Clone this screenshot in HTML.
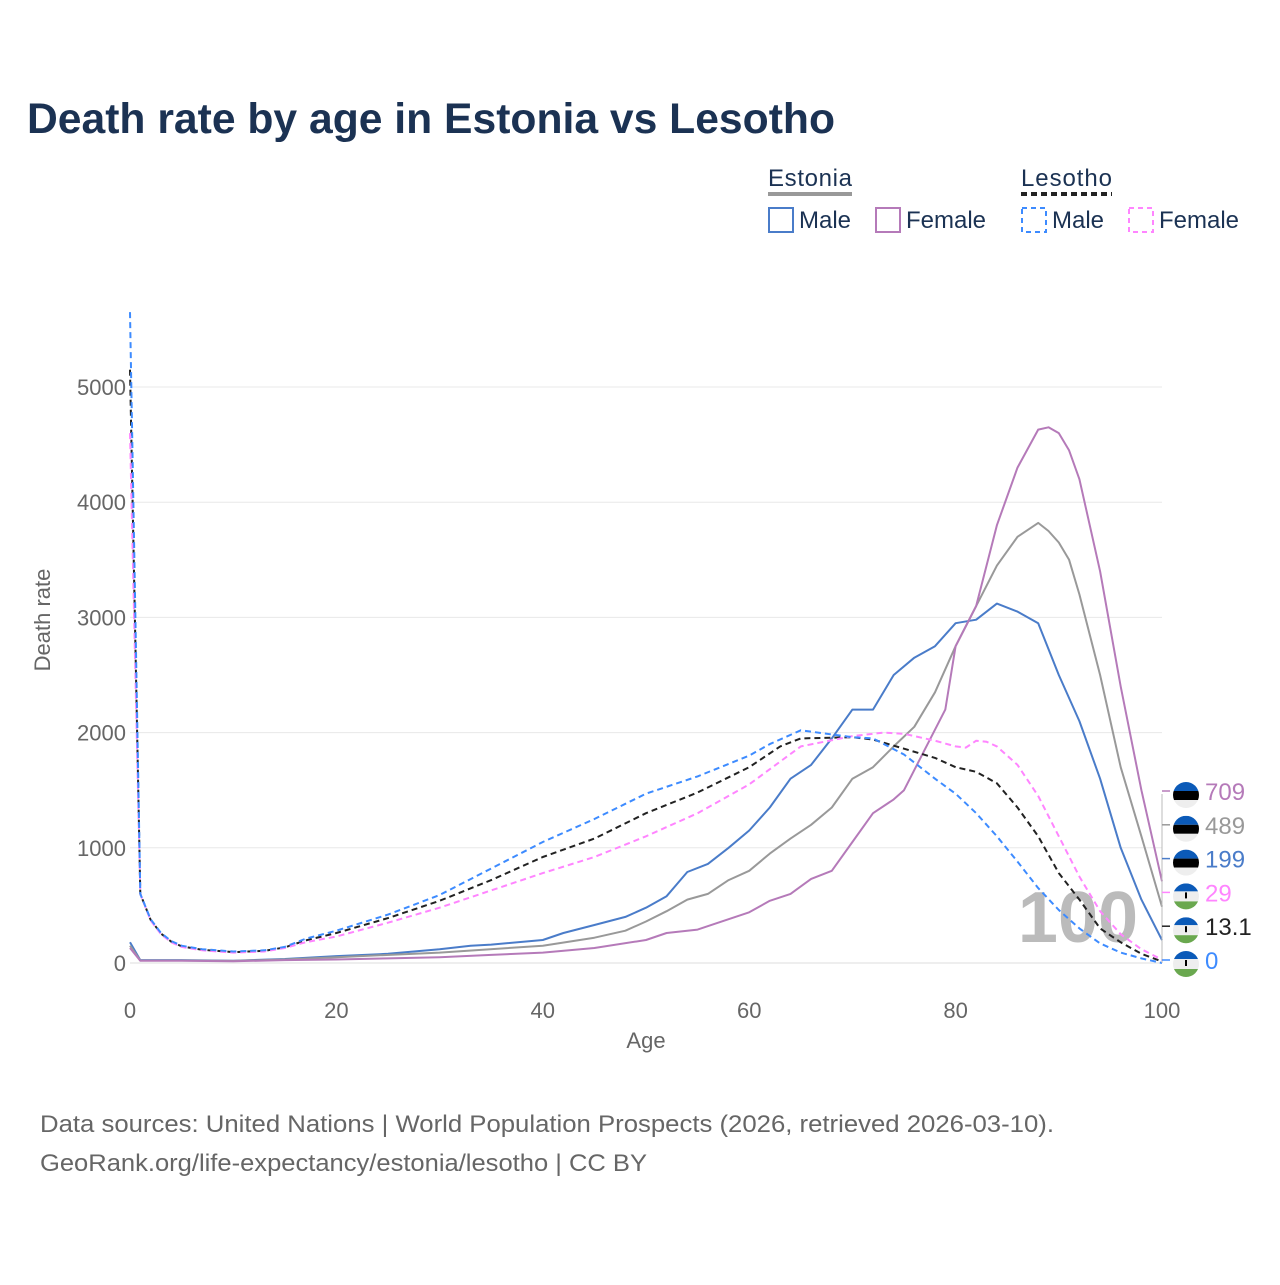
<!DOCTYPE html>
<html><head><meta charset="utf-8"><style>
body{margin:0;background:#fff;font-family:"Liberation Sans",sans-serif;}
svg text{font-family:"Liberation Sans",sans-serif;}
</style></head><body>
<svg id="c" width="1280" height="1280" xmlns="http://www.w3.org/2000/svg">
<text x="27" y="133" font-size="43" font-weight="bold" fill="#1b3253" textLength="808" lengthAdjust="spacingAndGlyphs">Death rate by age in Estonia vs Lesotho</text>
<g>
<text x="768" y="186" font-size="24" fill="#1b3253" textLength="84">Estonia</text>
<line x1="768" x2="852" y1="194" y2="194" stroke="#999" stroke-width="4"/>
<text x="1021" y="186" font-size="24" fill="#1b3253" textLength="91">Lesotho</text>
<line x1="1021" x2="1112" y1="194" y2="194" stroke="#222" stroke-width="4" stroke-dasharray="6,4"/>
<rect x="769" y="208" width="24" height="24" fill="none" stroke="#4a7cc9" stroke-width="2"/>
<text x="799" y="228" font-size="24" fill="#1b3253">Male</text>
<rect x="876" y="208" width="24" height="24" fill="none" stroke="#b57ab9" stroke-width="2"/>
<text x="906" y="228" font-size="24" fill="#1b3253">Female</text>
<rect x="1022" y="208" width="24" height="24" fill="none" stroke="#3d8bff" stroke-width="2" stroke-dasharray="5,4"/>
<text x="1052" y="228" font-size="24" fill="#1b3253">Male</text>
<rect x="1129" y="208" width="24" height="24" fill="none" stroke="#ff85ff" stroke-width="2" stroke-dasharray="5,4"/>
<text x="1159" y="228" font-size="24" fill="#1b3253">Female</text>
</g>
<g id="grid"></g>
<text x="1078" y="942" font-size="72" font-weight="bold" fill="#bbb" text-anchor="middle">100</text>
<g id="series"></g>
<g id="labels"></g>
<text x="646" y="1048" font-size="22" fill="#666" text-anchor="middle">Age</text>
<text transform="translate(50,620) rotate(-90)" font-size="22" fill="#666" text-anchor="middle">Death rate</text>
<text x="40" y="1132" font-size="24" fill="#666" textLength="1014" lengthAdjust="spacingAndGlyphs">Data sources: United Nations | World Population Prospects (2026, retrieved 2026-03-10).</text>
<text x="40" y="1171" font-size="24" fill="#666" textLength="607" lengthAdjust="spacingAndGlyphs">GeoRank.org/life-expectancy/estonia/lesotho | CC BY</text>
</svg>
<script>
const xTicks=[0,20,40,60,80,100];
const yTicks=[0,1000,2000,3000,4000,5000];
const estMaleAges=[0,1,5,10,15,20,25,30,33,35,40,42,45,48,50,52,54,56,58,60,62,64,66,68,70,72,74,76,78,80,82,84,86,88,90,92,94,96,98,100];
const estMale=[180,25,25,20,35,60,80,120,150,160,200,260,330,400,480,580,790,860,1000,1150,1350,1600,1720,1950,2200,2200,2500,2650,2750,2950,2980,3120,3050,2950,2500,2100,1600,1000,550,199];
const estFemaleAges=[0,1,5,10,15,20,25,30,35,40,45,50,52,55,58,60,62,64,66,68,70,72,74,75,77,79,80,82,84,86,88,89,90,91,92,94,96,98,100];
const estFemale=[130,20,20,15,25,30,40,50,70,90,130,200,260,290,380,440,540,600,730,800,1050,1300,1420,1500,1850,2200,2750,3100,3800,4300,4630,4650,4600,4450,4200,3400,2400,1500,709];
const estTotalAges=[0,1,5,10,15,20,30,40,45,48,50,52,54,56,58,60,62,64,66,68,70,72,74,76,78,80,82,84,86,88,89,90,91,92,94,96,98,100];
const estTotal=[150,22,22,18,30,50,90,150,220,280,360,450,550,600,720,800,950,1080,1200,1350,1600,1700,1880,2050,2350,2750,3100,3450,3700,3820,3750,3650,3500,3200,2500,1700,1100,489];
const lesMaleAges=[0,1,2,3,4,5,7,10,13,15,17,20,25,30,35,40,45,50,55,60,62,65,70,72,75,78,80,82,84,86,88,90,92,94,96,98,100];
const lesMale=[5650,600,380,260,190,150,120,100,110,140,210,280,420,590,820,1050,1250,1470,1620,1800,1900,2020,1960,1950,1810,1600,1470,1300,1100,880,650,460,300,170,90,40,0];
const lesFemaleAges=[0,1,2,3,4,5,7,10,13,15,17,20,25,30,35,40,45,50,55,60,65,70,73,75,78,80,81,82,83,84,86,88,90,92,94,96,98,100];
const lesFemale=[4600,600,370,250,180,140,110,90,100,130,180,230,350,480,630,780,920,1100,1300,1550,1880,1970,2000,1990,1930,1880,1870,1930,1920,1880,1720,1450,1100,750,450,250,120,29];
const lesTotalAges=[0,1,2,3,4,5,7,10,13,15,17,20,25,30,35,40,45,50,55,60,63,65,70,72,75,78,80,82,84,86,88,90,92,94,96,98,100];
const lesTotal=[5150,600,375,255,185,145,115,95,105,135,195,260,390,540,720,920,1080,1300,1480,1700,1880,1950,1960,1940,1860,1780,1700,1660,1560,1350,1100,780,550,300,180,80,13.1];
const endLabels=["709","489","199","29","13.1","0"];

const NS="http://www.w3.org/2000/svg";
const X=a=>130+a*10.32, Y=v=>963-v*0.1152;
function mk(t,at,p){const e=document.createElementNS(NS,t);for(const k in at)e.setAttribute(k,at[k]);p.appendChild(e);return e;}
const grid=document.getElementById('grid');
yTicks.forEach(v=>{
 const l=mk('line',{x1:130,x2:1162,y1:Y(v),y2:Y(v),stroke:v?'#e8e8e8':'#ddd','stroke-width':1},grid);
 
 
 const t=mk('text',{x:126,y:Y(v)+8,'font-size':22,fill:'#666','text-anchor':'end'},grid);t.textContent=v;
 
 
});
xTicks.forEach(v=>{
 const t=mk('text',{x:X(v),y:1018,'font-size':22,fill:'#666','text-anchor':'middle'},grid);t.textContent=v;
 
 
});
const ser=document.getElementById('series');
function draw(ages,vals,col,dash,name){
 const d=ages.map((a,i)=>(i?'L':'M')+X(a).toFixed(1)+','+Y(vals[i]).toFixed(1)).join('');
 const p=mk('path',{d:d,fill:'none',stroke:col,'stroke-width':2,'stroke-linejoin':'round'},ser);
 if(dash)p.setAttribute('stroke-dasharray','6,4');
 
 
}
draw(estMaleAges,estMale,'#4a7cc9',0,'line-estonia-male');
draw(estTotalAges,estTotal,'#999',0,'line-estonia-total');
draw(estFemaleAges,estFemale,'#b57ab9',0,'line-estonia-female');
draw(lesTotalAges,lesTotal,'#222',1,'line-lesotho-total');
draw(lesFemaleAges,lesFemale,'#ff85ff',1,'line-lesotho-female');
draw(lesMaleAges,lesMale,'#3d8bff',1,'line-lesotho-male');
const lab=document.getElementById('labels');
const cols=['#b57ab9','#999','#4a7cc9','#ff85ff','#222','#3d8bff'];
mk('line',{x1:1162,x2:1162,y1:794,y2:963,stroke:'#bbb','stroke-width':1},lab);
endLabels.forEach((s,i)=>{
 const y=791+i*33.8;
 mk('line',{x1:1162,x2:1170,y1:y,y2:y,stroke:cols[i],'stroke-width':1.5},lab);
 const g=mk('g',{},lab);
 
 
 const cx=1186,cy=y+4,r=13;
 mk('clipPath',{id:'cp'+i},g).appendChild(document.createElementNS(NS,'circle')).setAttribute('r',r);
 g.lastChild.firstChild.setAttribute('cx',cx);g.lastChild.firstChild.setAttribute('cy',cy);
 const gg=mk('g',{'clip-path':'url(#cp'+i+')'},g);
 if(i<3){
  mk('rect',{x:cx-r,y:cy-r,width:2*r,height:9,fill:'#0b5ab8'},gg);
  mk('rect',{x:cx-r,y:cy-r+9,width:2*r,height:9,fill:'#000'},gg);
  mk('rect',{x:cx-r,y:cy-r+18,width:2*r,height:9,fill:'#eee'},gg);
 }else{
  mk('rect',{x:cx-r,y:cy-r,width:2*r,height:8,fill:'#0b5ab8'},gg);
  mk('rect',{x:cx-r,y:cy-r+8,width:2*r,height:10,fill:'#eee'},gg);
  mk('rect',{x:cx-r,y:cy-r+18,width:2*r,height:9,fill:'#6aa84f'},gg);
  mk('rect',{x:cx-1,y:cy-4,width:2,height:6,fill:'#000'},gg);
 }
 const t=mk('text',{x:1205,y:y+9,'font-size':24,fill:cols[i]},lab);t.textContent=s;
 
 
});
</script>
</body></html>
